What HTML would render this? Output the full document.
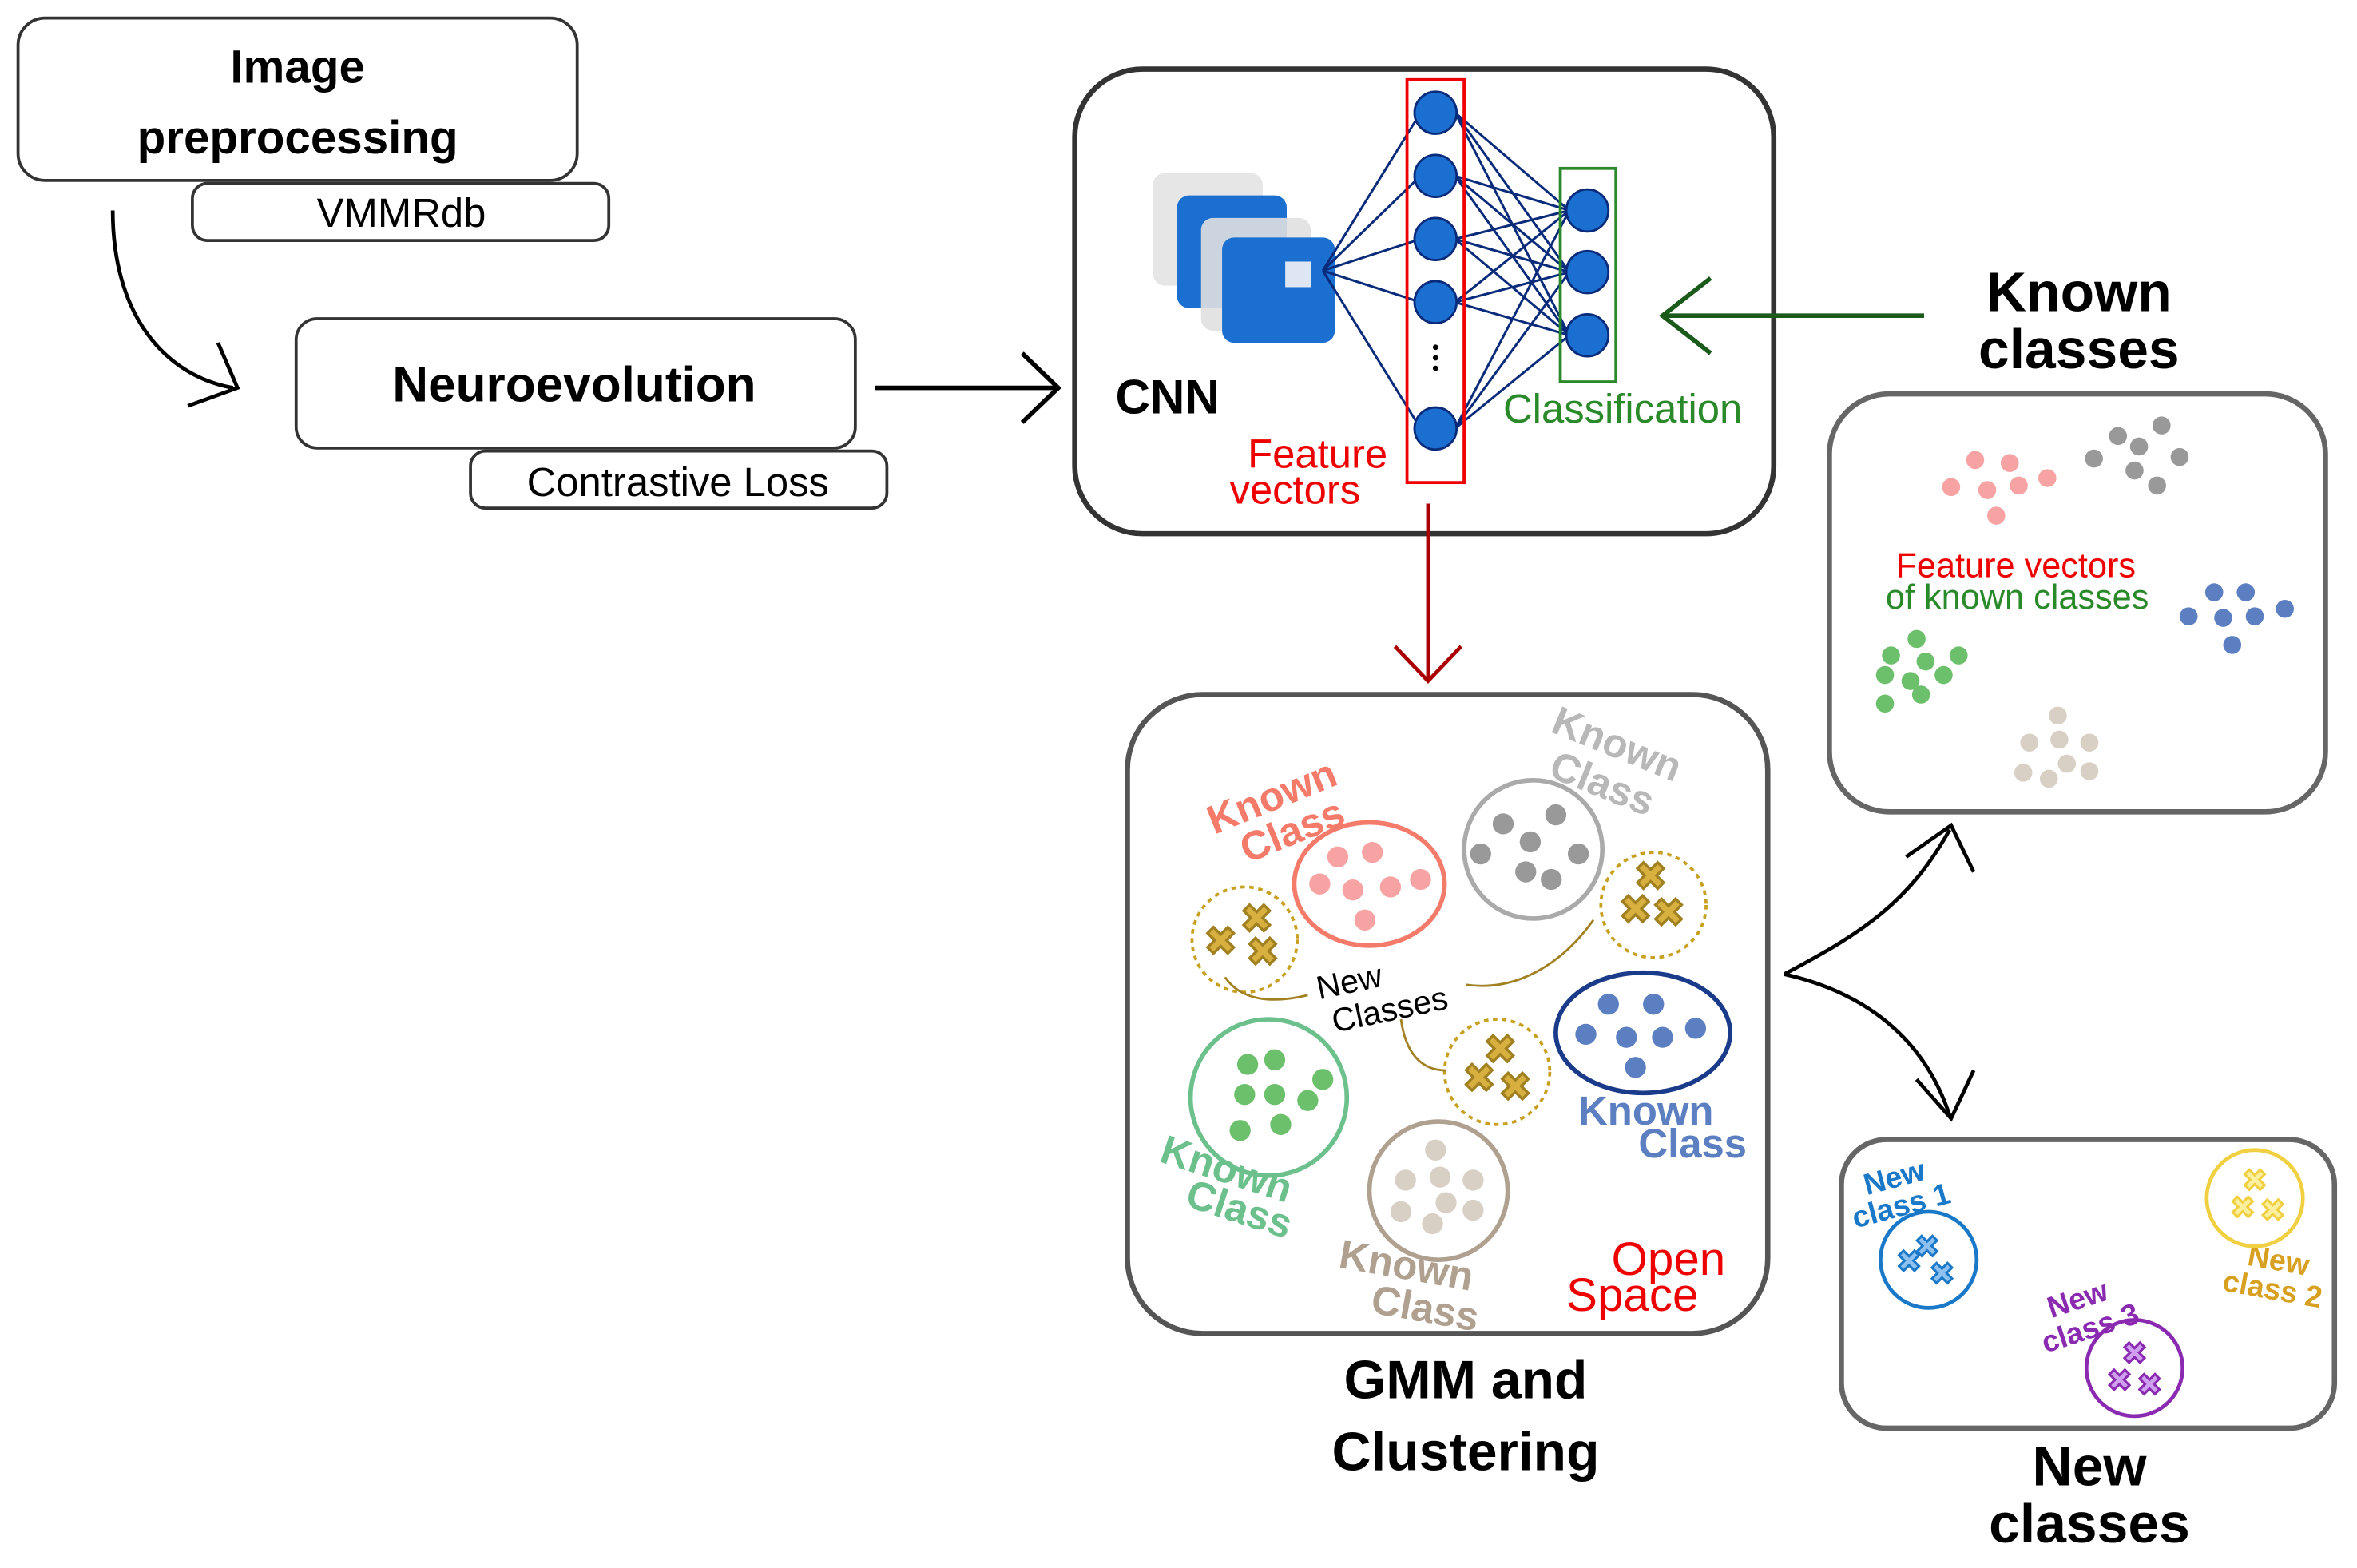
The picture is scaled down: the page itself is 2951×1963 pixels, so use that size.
<!DOCTYPE html>
<html><head><meta charset="utf-8"><style>html,body{margin:0;padding:0;background:#fff}svg{display:block}</style></head><body>
<svg width="2951" height="1963" viewBox="0 0 1568 1043" preserveAspectRatio="none" xmlns="http://www.w3.org/2000/svg" font-family="Liberation Sans, sans-serif">
<rect width="1568" height="1043" fill="#fff"/>
<rect x="12" y="12" width="372" height="108" rx="18" fill="#fff" stroke="#333" stroke-width="2"/>
<text x="198" y="55" font-size="31" font-weight="bold" text-anchor="middle">Image</text>
<text x="198" y="102" font-size="31" font-weight="bold" text-anchor="middle">preprocessing</text>
<rect x="128" y="122" width="277" height="38" rx="10" fill="#fff" stroke="#333" stroke-width="2"/>
<text x="267" y="151" font-size="27" text-anchor="middle">VMMRdb</text>
<path d="M75,140 C75,210 110,250 155,258" fill="none" stroke="#000" stroke-width="2.5"/>
<path d="M125,270 L158,258 L145,228" fill="none" stroke="#000" stroke-width="2.5"/>
<rect x="197" y="212" width="372" height="86" rx="14" fill="#fff" stroke="#333" stroke-width="2"/>
<text x="382" y="267" font-size="33" font-weight="bold" text-anchor="middle">Neuroevolution</text>
<rect x="313" y="300" width="277" height="38" rx="10" fill="#fff" stroke="#333" stroke-width="2"/>
<text x="451" y="330" font-size="27" text-anchor="middle">Contrastive Loss</text>
<line x1="582" y1="258" x2="703" y2="258" stroke="#000" stroke-width="3"/>
<path d="M680,235 L704,258 L680,281" fill="none" stroke="#000" stroke-width="3"/>
<rect x="715" y="46" width="465" height="309" rx="45" fill="#fff" stroke="#333" stroke-width="3.5"/>
<rect x="767" y="115" width="73" height="75" rx="8" fill="#e6e6e6"/>
<rect x="783" y="130" width="73" height="75" rx="8" fill="#1a6fd0"/>
<rect x="799" y="145" width="73" height="75" rx="8" fill="#e0e0e0" opacity="0.9"/>
<rect x="813" y="158" width="75" height="70" rx="8" fill="#1a6fd0"/>
<rect x="855" y="174" width="17" height="17" fill="#dde6f2"/>
<text x="742" y="275" font-size="32" font-weight="bold">CNN</text>
<g stroke="#0a2a7a" stroke-width="1.6">
<line x1="880" y1="180" x2="945" y2="75"/><line x1="880" y1="180" x2="945" y2="117"/><line x1="880" y1="180" x2="945" y2="159"/><line x1="880" y1="180" x2="945" y2="201"/><line x1="880" y1="180" x2="945" y2="285"/>
<line x1="968" y1="75" x2="1044" y2="140"/><line x1="968" y1="75" x2="1044" y2="181"/><line x1="968" y1="75" x2="1044" y2="223"/>
<line x1="968" y1="117" x2="1044" y2="140"/><line x1="968" y1="117" x2="1044" y2="181"/><line x1="968" y1="117" x2="1044" y2="223"/>
<line x1="968" y1="159" x2="1044" y2="140"/><line x1="968" y1="159" x2="1044" y2="181"/><line x1="968" y1="159" x2="1044" y2="223"/>
<line x1="968" y1="201" x2="1044" y2="140"/><line x1="968" y1="201" x2="1044" y2="181"/><line x1="968" y1="201" x2="1044" y2="223"/>
<line x1="968" y1="285" x2="1044" y2="140"/><line x1="968" y1="285" x2="1044" y2="181"/><line x1="968" y1="285" x2="1044" y2="223"/>
</g>
<rect x="936" y="53" width="38" height="268" fill="none" stroke="#e00" stroke-width="2"/>
<g fill="#1a6fd0" stroke="#0a2a7a" stroke-width="1.5">
<circle cx="955" cy="75" r="14"/><circle cx="955" cy="117" r="14"/><circle cx="955" cy="159" r="14"/><circle cx="955" cy="201" r="14"/><circle cx="955" cy="285" r="14"/>
<circle cx="1056" cy="140" r="14"/><circle cx="1056" cy="181" r="14"/><circle cx="1056" cy="223" r="14"/>
</g>
<g fill="#000"><circle cx="955" cy="231" r="1.8"/><circle cx="955" cy="238" r="1.8"/><circle cx="955" cy="245" r="1.8"/></g>
<rect x="1038" y="112" width="37" height="142" fill="none" stroke="#2a8a2a" stroke-width="2"/>
<text x="1000" y="281" font-size="27" fill="#2a8a2a">Classification</text>
<text x="830" y="311" font-size="27" fill="#e00">Feature</text>
<text x="818" y="335" font-size="27" fill="#e00">vectors</text>
<line x1="950" y1="335" x2="950" y2="452" stroke="#a00" stroke-width="2.5"/>
<path d="M928,430 L950,453 L972,430" fill="none" stroke="#a00" stroke-width="2.5"/>
<text x="1383" y="207" font-size="37" font-weight="bold" text-anchor="middle">Known</text>
<text x="1383" y="245" font-size="37" font-weight="bold" text-anchor="middle">classes</text>
<line x1="1280" y1="210" x2="1106" y2="210" stroke="#1a5a1a" stroke-width="3"/>
<path d="M1138,185 L1106,210 L1138,235" fill="none" stroke="#1a5a1a" stroke-width="3"/>
<rect x="1217" y="262" width="330" height="278" rx="40" fill="#fff" stroke="#666" stroke-width="3.5"/>
<g fill="#f7a3a3"><circle cx="1314" cy="306" r="6"/><circle cx="1337" cy="308" r="6"/><circle cx="1298" cy="324" r="6"/><circle cx="1322" cy="326" r="6"/><circle cx="1343" cy="323" r="6"/><circle cx="1362" cy="318" r="6"/><circle cx="1328" cy="343" r="6"/></g>
<g fill="#999"><circle cx="1409" cy="290" r="6"/><circle cx="1438" cy="283" r="6"/><circle cx="1393" cy="305" r="6"/><circle cx="1423" cy="297" r="6"/><circle cx="1450" cy="304" r="6"/><circle cx="1420" cy="313" r="6"/><circle cx="1435" cy="323" r="6"/></g>
<text x="1341" y="384" font-size="23" fill="#e00" text-anchor="middle">Feature vectors</text>
<text x="1342" y="405" font-size="23" fill="#2a8a2a" text-anchor="middle">of known classes</text>
<g fill="#5b7fc0"><circle cx="1473" cy="394" r="6"/><circle cx="1494" cy="394" r="6"/><circle cx="1456" cy="410" r="6"/><circle cx="1479" cy="411" r="6"/><circle cx="1500" cy="410" r="6"/><circle cx="1520" cy="405" r="6"/><circle cx="1485" cy="429" r="6"/></g>
<g fill="#6cc06c"><circle cx="1275" cy="425" r="6"/><circle cx="1258" cy="436" r="6"/><circle cx="1281" cy="440" r="6"/><circle cx="1303" cy="436" r="6"/><circle cx="1254" cy="449" r="6"/><circle cx="1271" cy="453" r="6"/><circle cx="1293" cy="449" r="6"/><circle cx="1254" cy="468" r="6"/><circle cx="1278" cy="462" r="6"/></g>
<g fill="#d8d0c4"><circle cx="1369" cy="476" r="6"/><circle cx="1350" cy="494" r="6"/><circle cx="1370" cy="492" r="6"/><circle cx="1390" cy="494" r="6"/><circle cx="1346" cy="514" r="6"/><circle cx="1375" cy="508" r="6"/><circle cx="1390" cy="513" r="6"/><circle cx="1363" cy="518" r="6"/></g>
<rect x="750" y="462" width="426" height="425" rx="50" fill="#fff" stroke="#555" stroke-width="3.5"/>
<text x="975" y="930" font-size="36" font-weight="bold" text-anchor="middle">GMM and</text>
<text x="975" y="978" font-size="36" font-weight="bold" text-anchor="middle">Clustering</text>
<g font-weight="bold" font-size="27">
<text x="800" y="545" fill="#f47a6a" transform="rotate(-22 830 530)">Known</text>
<text x="822" y="565" fill="#f47a6a" transform="rotate(-22 850 550)">Class</text>
<text x="1030" y="500" fill="#b8b8b8" transform="rotate(22 1065 495)">Known</text>
<text x="1030" y="528" fill="#b8b8b8" transform="rotate(22 1060 520)">Class</text>
<text x="770" y="785" fill="#6cc08c" transform="rotate(18 810 780)">Known</text>
<text x="788" y="812" fill="#6cc08c" transform="rotate(18 820 805)">Class</text>
<text x="890" y="850" fill="#b0a090" transform="rotate(10 930 845)">Known</text>
<text x="912" y="878" fill="#b0a090" transform="rotate(10 940 870)">Class</text>
<text x="1050" y="748" fill="#5b7fc0">Known</text>
<text x="1090" y="770" fill="#5b7fc0">Class</text>
</g>
<text x="1072" y="848" font-size="31" fill="#e00">Open</text>
<text x="1042" y="872" font-size="31" fill="#e00">Space</text>
<text x="876" y="660" font-size="22" transform="rotate(-12 900 655)">New</text>
<text x="886" y="680" font-size="22" transform="rotate(-12 920 675)">Classes</text>
<ellipse cx="911" cy="588" rx="50" ry="41" fill="none" stroke="#f47a6a" stroke-width="3"/>
<g fill="#f7a3a3"><circle cx="890" cy="570" r="7"/><circle cx="913" cy="567" r="7"/><circle cx="878" cy="588" r="7"/><circle cx="900" cy="592" r="7"/><circle cx="925" cy="590" r="7"/><circle cx="945" cy="585" r="7"/><circle cx="908" cy="612" r="7"/></g>
<circle cx="1020" cy="565" r="46" fill="none" stroke="#aaa" stroke-width="3"/>
<g fill="#999"><circle cx="1000" cy="548" r="7"/><circle cx="1035" cy="542" r="7"/><circle cx="985" cy="568" r="7"/><circle cx="1018" cy="560" r="7"/><circle cx="1050" cy="568" r="7"/><circle cx="1015" cy="580" r="7"/><circle cx="1032" cy="585" r="7"/></g>
<ellipse cx="1093" cy="687" rx="58" ry="40" fill="none" stroke="#1a3a8a" stroke-width="3"/>
<g fill="#5b7fc0"><circle cx="1070" cy="668" r="7"/><circle cx="1100" cy="668" r="7"/><circle cx="1055" cy="688" r="7"/><circle cx="1082" cy="690" r="7"/><circle cx="1106" cy="690" r="7"/><circle cx="1128" cy="684" r="7"/><circle cx="1088" cy="710" r="7"/></g>
<circle cx="844" cy="730" r="52" fill="none" stroke="#6cc08c" stroke-width="3"/>
<g fill="#6cc06c"><circle cx="830" cy="708" r="7"/><circle cx="848" cy="705" r="7"/><circle cx="828" cy="728" r="7"/><circle cx="848" cy="728" r="7"/><circle cx="870" cy="732" r="7"/><circle cx="880" cy="718" r="7"/><circle cx="825" cy="752" r="7"/><circle cx="852" cy="748" r="7"/></g>
<circle cx="957" cy="792" r="46" fill="none" stroke="#b0a090" stroke-width="3"/>
<g fill="#d8d0c4"><circle cx="955" cy="765" r="7"/><circle cx="935" cy="785" r="7"/><circle cx="958" cy="783" r="7"/><circle cx="980" cy="785" r="7"/><circle cx="932" cy="806" r="7"/><circle cx="962" cy="800" r="7"/><circle cx="980" cy="805" r="7"/><circle cx="953" cy="814" r="7"/></g>
<g fill="none" stroke="#c8a020" stroke-width="2" stroke-dasharray="3,3">
<circle cx="828" cy="625" r="35"/><circle cx="1100" cy="602" r="35"/><circle cx="996" cy="713" r="35"/></g>
<g font-size="26" font-weight="bold" fill="#d8b040" stroke="#a08020" stroke-width="1" text-anchor="middle">
<text x="812" y="635">✖</text><text x="836" y="620">✖</text><text x="840" y="642">✖</text>
<text x="1098" y="592">✖</text><text x="1088" y="614">✖</text><text x="1110" y="616">✖</text>
<text x="998" y="707">✖</text><text x="984" y="726">✖</text><text x="1008" y="732">✖</text>
</g>
<g fill="none" stroke="#a08020" stroke-width="1.5">
<path d="M870,662 C845,668 825,665 815,650"/><path d="M975,655 C1010,660 1040,640 1060,612"/><path d="M932,678 C935,700 945,712 962,712"/>
</g>
<path d="M1187,648 C1240,620 1270,600 1297,552" fill="none" stroke="#000" stroke-width="2.5"/>
<path d="M1268,570 L1298,549 L1313,580" fill="none" stroke="#000" stroke-width="2.5"/>
<path d="M1187,648 C1240,660 1280,690 1297,742" fill="none" stroke="#000" stroke-width="2.5"/>
<path d="M1275,718 L1298,744 L1313,712" fill="none" stroke="#000" stroke-width="2.5"/>
<rect x="1225" y="758" width="328" height="192" rx="30" fill="#fff" stroke="#666" stroke-width="3.5"/>
<text x="1390" y="988" font-size="37" font-weight="bold" text-anchor="middle">New</text>
<text x="1390" y="1026" font-size="37" font-weight="bold" text-anchor="middle">classes</text>
<g font-weight="bold" font-size="20">
<text x="1240" y="790" fill="#1a78c8" transform="rotate(-15 1260 785)">New</text>
<text x="1232" y="810" fill="#1a78c8" transform="rotate(-15 1260 805)">class 1</text>
<text x="1362" y="870" fill="#8a2ab0" transform="rotate(-18 1385 865)">New</text>
<text x="1358" y="892" fill="#8a2ab0" transform="rotate(-18 1385 887)">class 3</text>
<text x="1495" y="845" fill="#d8a020" transform="rotate(10 1515 840)">New</text>
<text x="1478" y="864" fill="#d8a020" transform="rotate(10 1510 860)">class 2</text>
</g>
<circle cx="1283" cy="838" r="32" fill="none" stroke="#1a78c8" stroke-width="2.5"/>
<circle cx="1420" cy="910" r="32" fill="none" stroke="#8a2ab0" stroke-width="2.5"/>
<circle cx="1500" cy="797" r="32" fill="none" stroke="#f0d040" stroke-width="2.5"/>
<g font-size="20" font-weight="bold" text-anchor="middle">
<g fill="#8ec0f0" stroke="#1a78c8"><text x="1282" y="836">✖</text><text x="1270" y="846">✖</text><text x="1292" y="854">✖</text></g>
<g fill="#d0a0f0" stroke="#8a2ab0"><text x="1420" y="907">✖</text><text x="1410" y="925">✖</text><text x="1430" y="928">✖</text></g>
<g fill="#faf0a0" stroke="#f0d040"><text x="1500" y="792">✖</text><text x="1492" y="810">✖</text><text x="1512" y="812">✖</text></g>
</g>
</svg>
</body></html>
